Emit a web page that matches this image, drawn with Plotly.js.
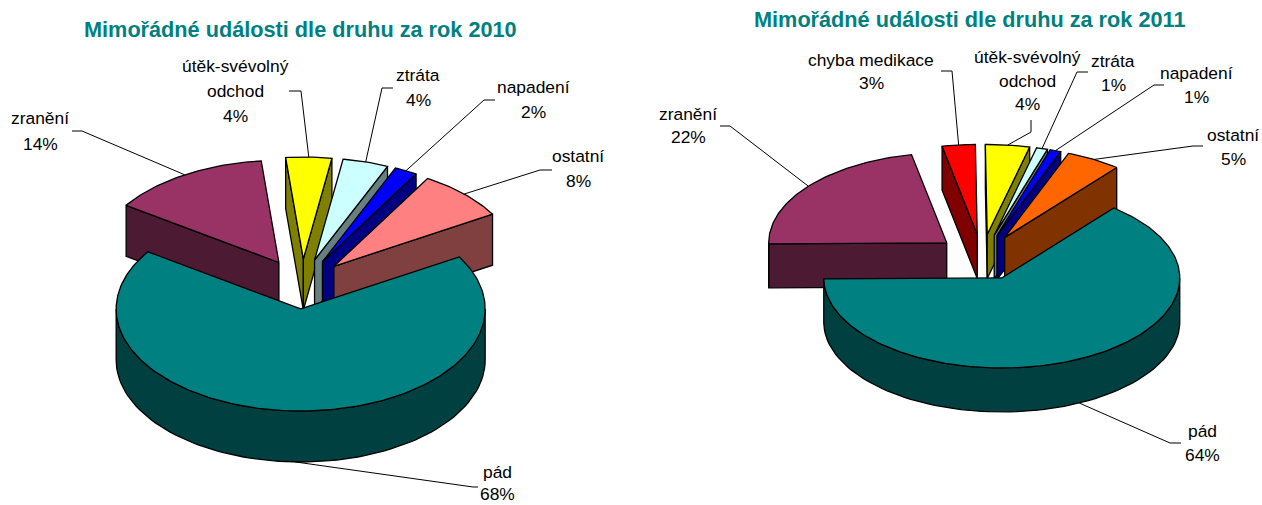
<!DOCTYPE html>
<html><head><meta charset="utf-8">
<script src="https://cdn.plot.ly/plotly-3.0.1.min.js"></script>
<style>html,body{margin:0;padding:0;background:#fff}#c{width:1262px;height:505px}</style>
</head><body><div id="c"></div>
<script>
// ---- data (clockwise from the first slice) ----
const categories2010 = ['pád','zranění','útěk-svévolný\nodchod','ztráta','napadení','ostatní'];
const values2010     = [68,14,4,4,2,8];
const categories2011 = ['pád','zranění','chyba medikace','útěk-svévolný\nodchod','ztráta','napadení','ostatní'];
const values2011     = [64,22,3,4,1,1,5];
const titles = ['Mimořádné události dle druhu za rok 2010','Mimořádné události dle druhu za rok 2011'];

// ---- styles and layout ----
const colors2010 = ['#008080','#993366','#FFFF00','#CCFFFF','#0000FF','#FF8080'];
const colors2011 = ['#008080','#993366','#FF0000','#FFFF00','#CCFFFF','#0000FF','#FF6600'];
const charts = [
 {cats:categories2010, vals:values2010, cols:colors2010, cx:302, cy:284, rx:184.5, ry:102, depth:51, start:59.3, explode:.245,
  title:titles[0], titlePos:[300,29],
  labelY:[[472,494],[118,144],[66,91,116],[75,100],[87,112],[156,181]],
  labelX:[497,40,235,418,533,578],
  elbows:[[[478,487],[473,487]],[[72,131],[82,131]],[[289,91],[301,91]],[[393,88],[382,88]],[[495,100],[484,100]],[[552,170],[540,170]]]},
 {cats:categories2011, vals:values2011, cols:colors2011, cx:982, cy:257.3, rx:178, ry:90, depth:44, start:39, explode:.255,
  title:titles[1], titlePos:[969,19],
  labelY:[[431,455],[114,137],[60,83],[57,81,104],[61,85],[73,97],[135,159]],
  labelX:[1202,688,871,1027,1113,1196,1233],
  elbows:[[[1181,443],[1170,443]],[[720,126],[730,126]],[[941,71],[952,71]],[[1031,120],[1031,132]],[[1088,72],[1077,72]],[[1164,85],[1154,85]],[[1203,146],[1193,146]]]}
];
const rad = d => d*Math.PI/180;
function darken(hex){
  const n = parseInt(hex.slice(1),16);
  const h = v => Math.round(v/2).toString(16).padStart(2,'0');
  return '#'+h(n>>16&255)+h(n>>8&255)+h(n&255);
}
const traces=[], annotations=[];
function poly(pts,fill){
  traces.push({type:'scatter',mode:'lines',x:pts.map(p=>p[0]),y:pts.map(p=>p[1]),fill:'toself',fillcolor:fill,
    line:{color:'#000',width:1.3,shape:'linear'},hoverinfo:'skip',showlegend:false});
}
charts.forEach(ch=>{
  annotations.push({x:ch.titlePos[0],y:ch.titlePos[1],xref:'x',yref:'y',text:ch.title,showarrow:false,xanchor:'center',yanchor:'middle',
    font:{family:'Liberation Sans',size:21.7,color:'#008080',weight:700}});
  const total = ch.vals.reduce((a,b)=>a+b,0);
  let a = ch.start;
  const slices = ch.vals.map((v,i)=>{ const s={i,a0:a,a1:a+v/total*360,v}; a=s.a1; return s; });
  slices.forEach(s=>{
    const m = (s.a0+s.a1)/2;
    s.ox = ch.cx + ch.explode*ch.rx*Math.sin(rad(m));
    s.oy = ch.cy - ch.explode*ch.ry*Math.cos(rad(m));
    s.rim = t => [s.ox+ch.rx*Math.sin(rad(t)), s.oy-ch.ry*Math.cos(rad(t))];
    s.mid = m;
  });
  // slices drawn back to front: the large front slice goes last
  slices.slice(1).concat(slices[0]).forEach(s=>{
    const dark = darken(ch.cols[s.i]);
    const face = t => { const p=s.rim(t); return [[s.ox,s.oy],p,[p[0],p[1]+ch.depth],[s.ox,s.oy+ch.depth],[s.ox,s.oy]]; };
    if(Math.sin(rad(s.a0))<0) poly(face(s.a0),dark);
    if(Math.sin(rad(s.a1))>0) poly(face(s.a1),dark);
    // outer wall: only the part turned to the viewer
    const lo=Math.max(s.a0,90), hi=Math.min(s.a1,270);
    if(hi>lo){
      const top=[]; for(let t=lo;t<=hi+1e-6;t+=(hi-lo)/80) top.push(s.rim(t));
      const bot=top.map(p=>[p[0],p[1]+ch.depth]).reverse();
      poly(top.concat(bot,[top[0]]),dark);
    }
    const pts=[[s.ox,s.oy]];
    const n=Math.max(6,Math.ceil(s.a1-s.a0));
    for(let k=0;k<=n;k++) pts.push(s.rim(s.a0+(s.a1-s.a0)*k/n));
    pts.push([s.ox,s.oy]);
    poly(pts,ch.cols[s.i]);
  });
  // leader lines and labels
  slices.forEach(s=>{
    const e=s.rim(s.mid);
    if(Math.cos(rad(s.mid))<0) e[1]+=ch.depth;
    const path=ch.elbows[s.i].concat([e]);
    traces.push({type:'scatter',mode:'lines',x:path.map(p=>p[0]),y:path.map(p=>p[1]),line:{color:'#000',width:1},hoverinfo:'skip',showlegend:false});
    const lines=ch.cats[s.i].split('\n').concat([s.v+'%']);
    lines.forEach((t,k)=>annotations.push({x:ch.labelX[s.i],y:ch.labelY[s.i][k],xref:'x',yref:'y',text:t,showarrow:false,xanchor:'center',yanchor:'middle',
      font:{family:'Liberation Sans',size:17.4,color:'#000'}}));
  });
});
const hidden={visible:false,fixedrange:true};
Plotly.newPlot('c',traces,{
  width:1262,height:505,margin:{l:0,r:0,t:0,b:0},paper_bgcolor:'#fff',plot_bgcolor:'#fff',showlegend:false,
  xaxis:Object.assign({range:[0,1262]},hidden),
  yaxis:Object.assign({range:[505,0]},hidden),
  annotations
},{staticPlot:true,displayModeBar:false});
</script></body></html>
